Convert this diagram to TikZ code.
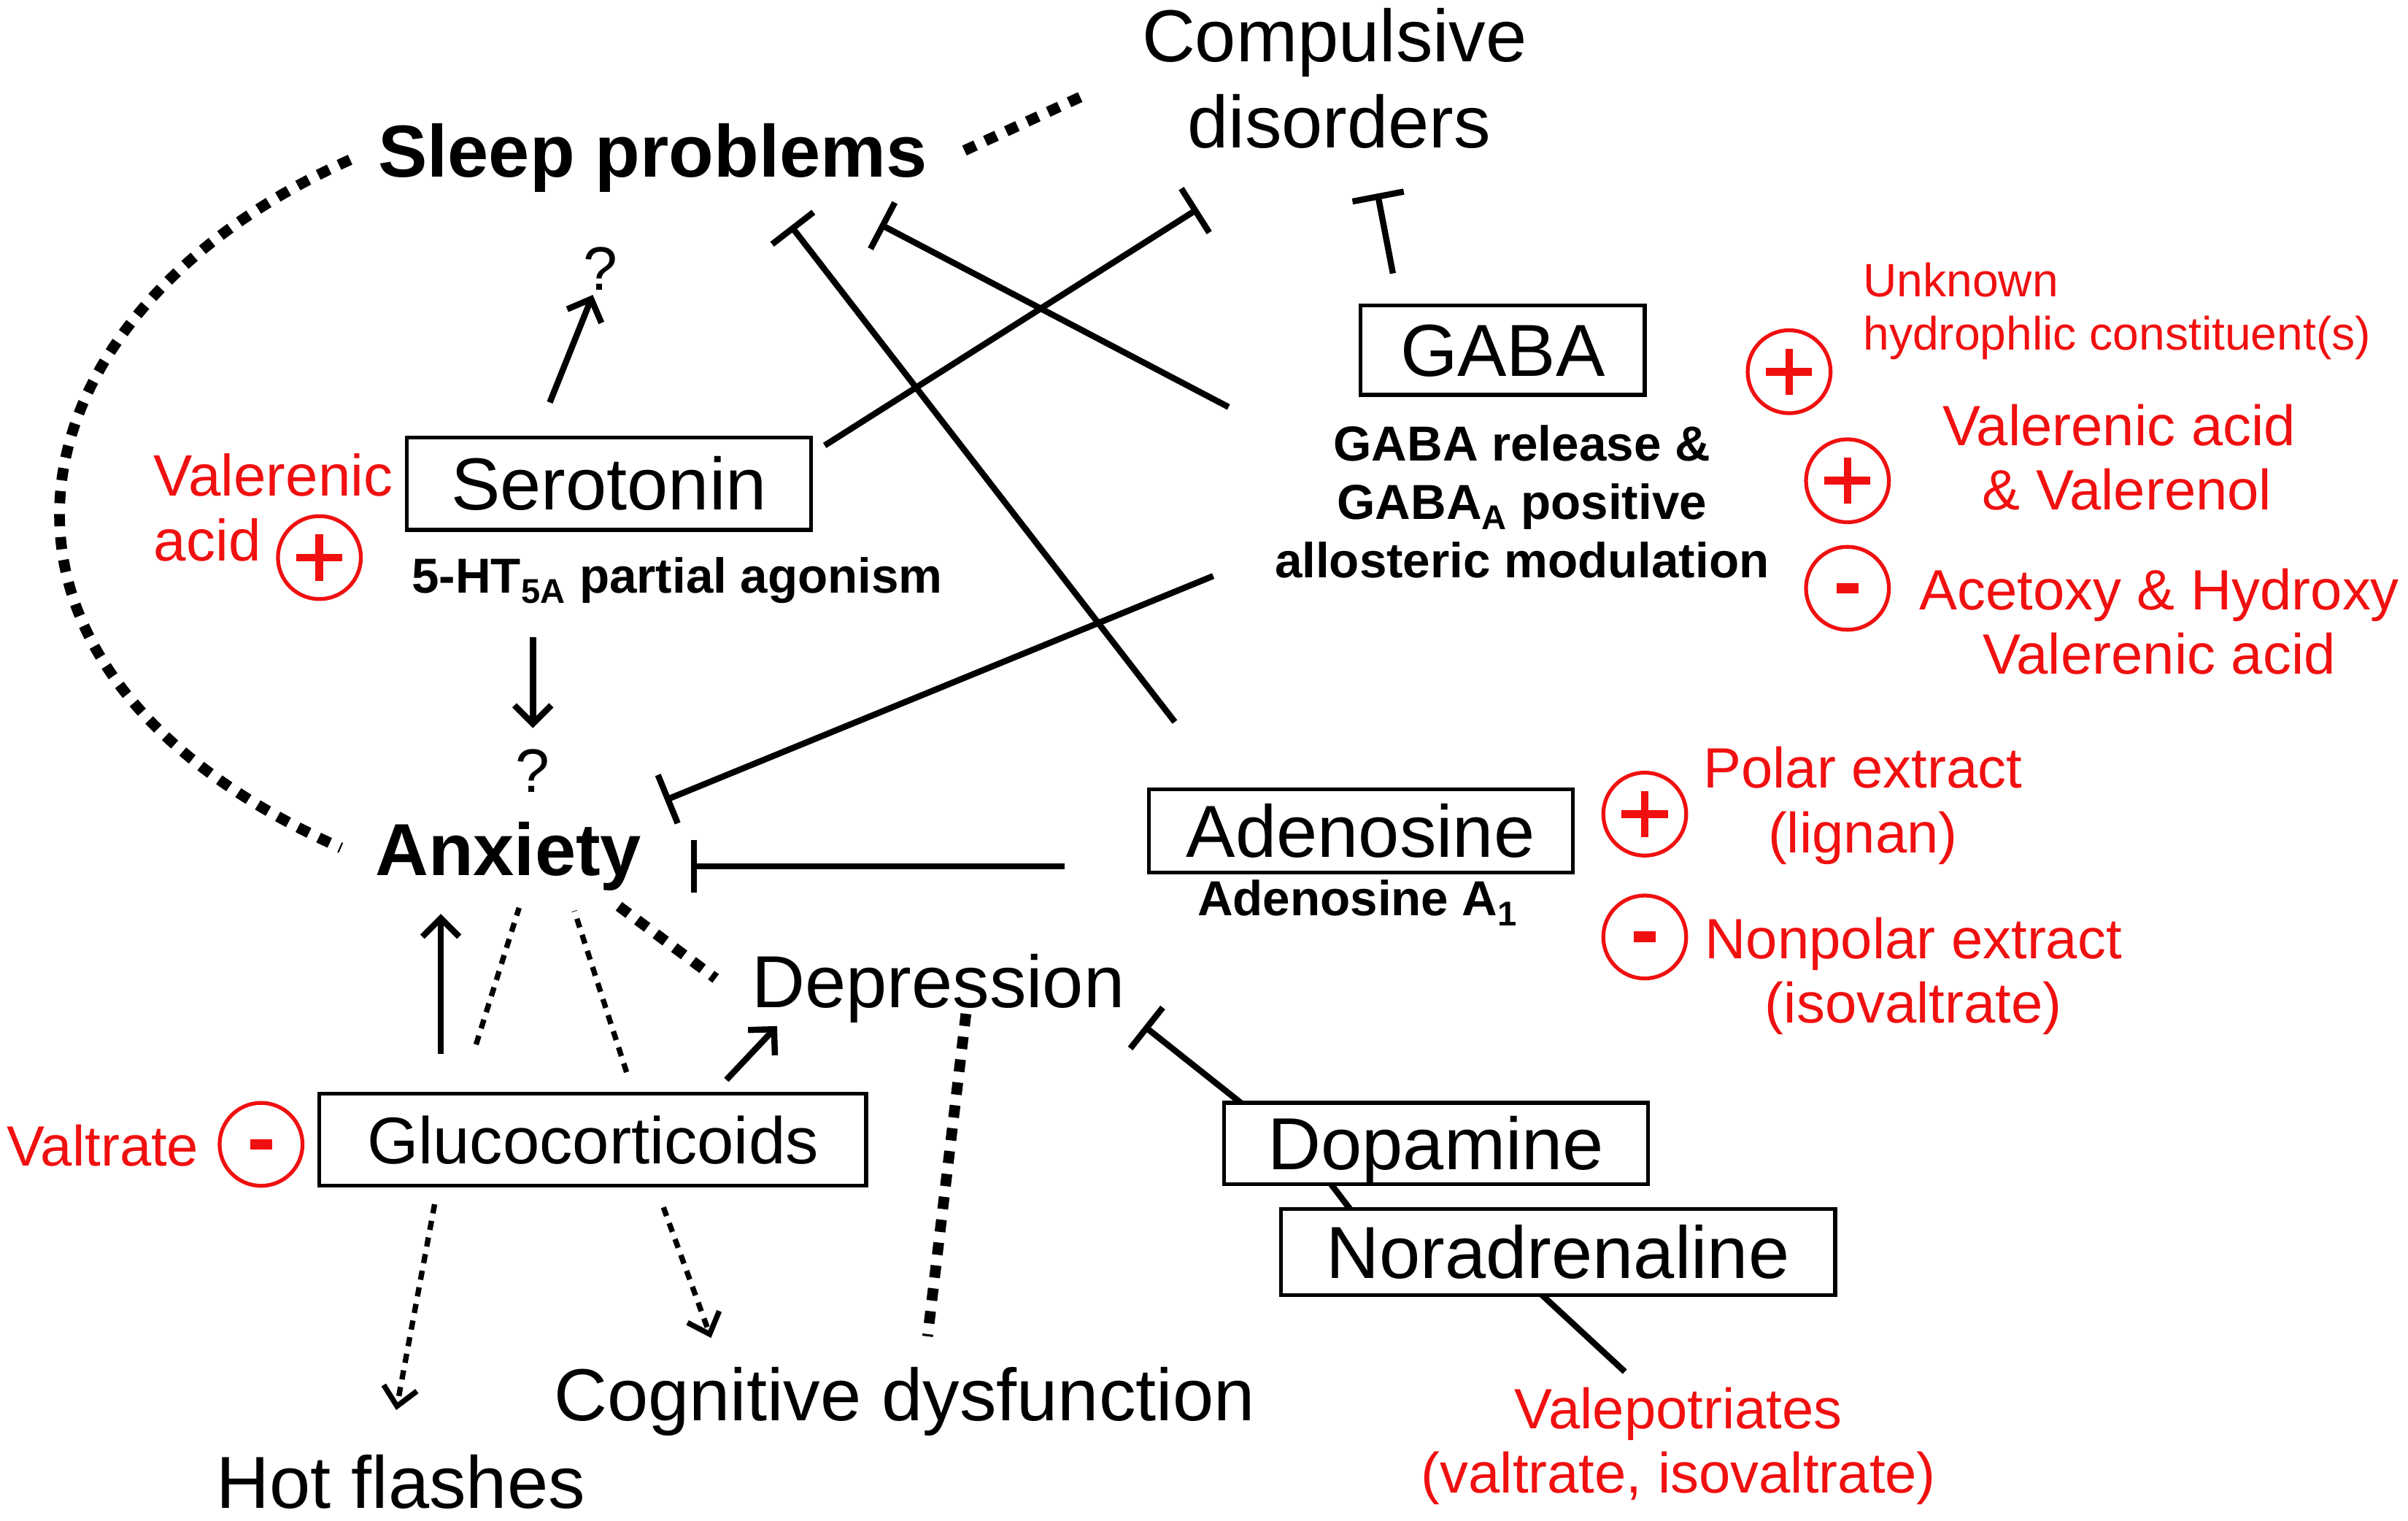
\documentclass[tikz,border=0pt]{standalone}
\usepackage{fontspec}
\setmainfont{Liberation Sans}
\usetikzlibrary{arrows.meta}
\definecolor{vred}{RGB}{240,16,16}
\newcommand{\fsz}[1]{\fontsize{#1}{#1}\selectfont}
\begin{document}
\begin{tikzpicture}[x=1pt,y=-1pt,
  lbl/.style={inner sep=0pt, anchor=base},
  lblw/.style={inner sep=0pt, anchor=base west},
  big/.style={font=\fsz{48}},
  bigb/.style={font=\bfseries\fsz{48}},
  smb/.style={font=\bfseries\fsz{32}},
  redt/.style={text=vred, font=\fsz{37}},
  redsm/.style={text=vred, font=\fsz{30.5}},
  box/.style={draw, line width=2.5pt, fill=white, inner sep=0pt, font=\fsz{48}, text height=34pt, text depth=0pt},
  inh/.style={line width=4pt, -{Bar[width=34pt]}},
  plainln/.style={line width=4pt},
  act/.style={line width=4pt, -{Straight Barb[length=12pt,width=24pt,line width=4pt]}},
  thickdot/.style={line width=7pt, dash pattern=on 8pt off 7pt},
  thindot/.style={line width=3.5pt, dash pattern=on 6pt off 5pt},
  thindotarr/.style={thindot, -{Straight Barb[length=12pt,width=22pt,line width=3.5pt]}},
  sgn/.style={circle, draw=vred, line width=2.5pt, minimum size=54pt, inner sep=0pt},
  plus/.style={sgn, path picture={\draw[vred, line width=5pt] ([xshift=-15pt]path picture bounding box.center) -- ([xshift=15pt]path picture bounding box.center); \draw[vred, line width=5pt] ([yshift=-15pt]path picture bounding box.center) -- ([yshift=15pt]path picture bounding box.center);}},
  minus/.style={sgn, path picture={\draw[vred, line width=7pt] ([xshift=-7pt]path picture bounding box.center) -- ([xshift=7pt]path picture bounding box.center);}}
]
\useasboundingbox (0,0) rectangle (1568,990);

% ---------- black text nodes ----------
\node[lbl, bigb] (sleep) at (425,115) {Sleep problems};
\node[lbl, big] (comp1) at (869,40) {Compulsive};
\node[lbl, big] (comp2) at (872,96) {disorders};
\node[lbl, bigb] (anx) at (331,570) {Anxiety};
\node[lbl, big] (dep) at (611,656) {Depression};
\node[lbl, big] (cog) at (589,925) {Cognitive dysfunction};
\node[lbl, big] (hot) at (261,982) {Hot flashes};
\node[lbl, font=\fsz{40}] (q1) at (391,189) {?};
\node[lbl, font=\fsz{40}] (q2) at (347,516) {?};
\node[lbl, smb] (ht) at (441,386) {5-HT\textsubscript{5A} partial agonism};
\node[lbl, smb] (gr1) at (991,300) {GABA release \&};
\node[lbl, smb] (gr2) at (991,338) {GABA\textsubscript{A} positive};
\node[lbl, smb] (gr3) at (991,376) {allosteric modulation};
\node[lbl, smb] (adr) at (884,596) {Adenosine A\textsubscript{1}};

% ---------- red text nodes ----------
\node[lblw, redt, font=\fsz{38}] (va1) at (100,323) {Valerenic};
\node[lblw, redt, font=\fsz{38}] (va2) at (100,365) {acid};
\node[lblw, redsm] (un1) at (1213,193) {Unknown};
\node[lblw, redsm] (un2) at (1213,228) {hydrophlic constituent(s)};
\node[lbl, redt] (vv1) at (1380,290) {Valerenic acid};
\node[lbl, redt] (vv2) at (1385,332) {\& Valerenol};
\node[lbl, redt] (ah1) at (1406,397) {Acetoxy \& Hydroxy};
\node[lbl, redt] (ah2) at (1406,439) {Valerenic acid};
\node[lbl, redt] (pe1) at (1213,513) {Polar extract};
\node[lbl, redt] (pe2) at (1213,555) {(lignan)};
\node[lbl, redt] (np1) at (1246,624) {Nonpolar extract};
\node[lbl, redt] (np2) at (1246,666) {(isovaltrate)};
\node[lbl, redt] (valt) at (67,759) {Valtrate};
\node[lbl, redt] (vp1) at (1093,930) {Valepotriates};
\node[lbl, redt] (vp2) at (1093,972) {(valtrate, isovaltrate)};

% ---------- sign circles ----------
\node[plus] (s1) at (208,363) {};
\node[plus] (s2) at (1165,242) {};
\node[plus] (s3) at (1203,313) {};
\node[minus] (s4) at (1203,383) {};
\node[plus] (s5) at (1071,530) {};
\node[minus] (s6) at (1071,610) {};
\node[minus] (s7) at (170,745) {};

% ---------- connector end coordinates ----------
\coordinate (c1a) at (228,104);
\coordinate (c1b) at (222,552);
\coordinate (c2a) at (628,98);
\coordinate (c2b) at (706,62);
\coordinate (serTop) at (358,262);
\coordinate (q1b) at (386,192);
\coordinate (serBot) at (347,415);
\coordinate (q2t) at (347,474);
\coordinate (serR) at (537,290);
\coordinate (compL) at (780,136);
\coordinate (gabaL) at (800,265);
\coordinate (sleepR) at (573,146);
\coordinate (adU) at (765,470);
\coordinate (sleepM) at (515,147);
\coordinate (gabaT) at (907,178);
\coordinate (compB) at (897,126);
\coordinate (gabaM) at (790,375);
\coordinate (anxR) at (433,521);
\coordinate (adL) at (693,564);
\coordinate (anxR2) at (450,564);
\coordinate (dopT) at (808,718);
\coordinate (depR) at (745,668);
\coordinate (dopB) at (866,770);
\coordinate (norT) at (879,787);
\coordinate (norB) at (1004,843);
\coordinate (vpT) at (1058,893);
\coordinate (glT) at (287,686);
\coordinate (anxB) at (287,595);
\coordinate (gd1a) at (310,680);
\coordinate (gd1b) at (338,591);
\coordinate (gd2a) at (408,698);
\coordinate (gd2b) at (374,593);
\coordinate (glTR) at (473,703);
\coordinate (depL) at (506,668);
\coordinate (glB1) at (283,784);
\coordinate (hotT) at (258,918);
\coordinate (glB2) at (432,786);
\coordinate (cogT) at (463,871);
\coordinate (depB) at (629,660);
\coordinate (cogT2) at (604,870);
\coordinate (anxD) at (403,590);
\coordinate (depD) at (466,637);

% ---------- connectors ----------
\draw[thickdot] (c1a) .. controls (3,204) and (-48,432) .. (c1b);
\draw[thickdot] (c2a) -- (c2b);
\draw[act] (serTop) -- (q1b);
\draw[act] (serBot) -- (q2t);
\draw[inh] (serR) -- (compL);
\draw[inh] (gabaL) -- (sleepR);
\draw[inh] (adU) -- (sleepM);
\draw[inh] (gabaT) -- (compB);
\draw[inh] (gabaM) -- (anxR);
\draw[inh] (adL) -- (anxR2);
\draw[inh] (dopT) -- (depR);
\draw[plainln] (dopB) -- (norT);
\draw[plainln] (norB) -- (vpT);
\draw[act] (glT) -- (anxB);
\draw[thindot] (gd1a) -- (gd1b);
\draw[thindot] (gd2a) -- (gd2b);
\draw[act] (glTR) -- (depL);
\draw[thindotarr] (glB1) -- (hotT);
\draw[thindotarr] (glB2) -- (cogT);
\draw[thickdot] (depB) -- (cogT2);
\draw[thickdot] (anxD) -- (depD);

% ---------- boxes ----------
\node[box, minimum width=263pt, minimum height=60pt] (ser) at (396.5,315) {Serotonin};
\node[box, minimum width=185pt, minimum height=58pt] (gaba) at (978.5,228) {GABA};
\node[box, minimum width=276pt, minimum height=54pt] (ade) at (886,541) {Adenosine};
\node[box, minimum width=356pt, minimum height=60pt, font=\fsz{43}, text height=31pt] (glu) at (386,742) {Glucocorticoids};
\node[box, minimum width=276pt, minimum height=53pt] (dop) at (935,744.5) {Dopamine};
\node[box, minimum width=361pt, minimum height=56pt] (nor) at (1014.5,815) {Noradrenaline};
\end{tikzpicture}
\end{document}
